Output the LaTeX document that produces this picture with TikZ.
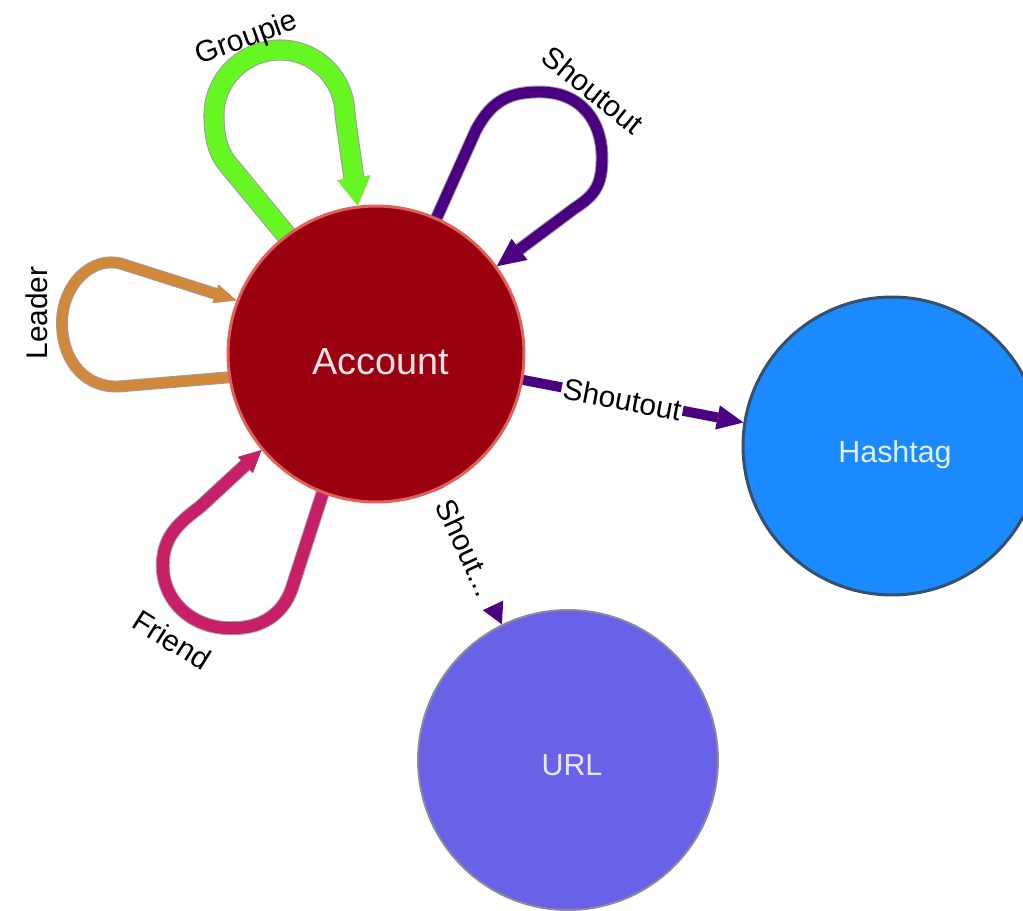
\documentclass[tikz,border=0pt]{standalone}
\usepackage{fontspec}
\setmainfont{Liberation Sans}
\usetikzlibrary{arrows.meta}
\pgfdeclarelayer{bg}
\pgfsetlayers{bg,main}
\definecolor{accfill}{HTML}{9B0010}
\definecolor{accborder}{HTML}{E0605A}
\definecolor{acctext}{HTML}{F5E2E2}
\definecolor{hashfill}{HTML}{1A8AFD}
\definecolor{hashborder}{HTML}{34506C}
\definecolor{hashtext}{HTML}{E2F0FF}
\definecolor{urlfill}{HTML}{6961E8}
\definecolor{urlborder}{HTML}{8A8A9A}
\definecolor{urltext}{HTML}{E8E8FC}
\definecolor{lgreen}{HTML}{66F622}
\definecolor{indig}{HTML}{4B0082}
\definecolor{lorange}{HTML}{D2883A}
\definecolor{lmagenta}{HTML}{C82068}
\tikzset{
  entity/.style={circle, inner sep=0pt},
  nodetext/.style={anchor=base, inner sep=0pt, font=\fontsize{17.3}{20}\selectfont},
  lbl/.style={font=\fontsize{17}{20}\selectfont, inner sep=1pt, text=black},
  band/.style={line join=round, line cap=butt},
  outl/.style={preaction={draw=black!38, line width=#1}},
}
\begin{document}
\begin{tikzpicture}[x=0.02cm, y=-0.02cm]
\useasboundingbox (0,0) rectangle (1023,911);
\clip (0,0) rectangle (1023,911);

% nodes
\node[entity, fill=accfill, draw=accborder, line width=1.7pt, minimum size=5.92cm] (acc) at (376,354) {};
\node[entity, fill=hashfill, draw=hashborder, line width=1.7pt, minimum size=5.96cm] (hash) at (892,446) {};
\node[entity, fill=urlfill, draw=urlborder, line width=1.1pt, minimum size=6cm] (url) at (568,760) {};

\node[nodetext, text=acctext, font=\fontsize{21.5}{24}\selectfont] (acclabel) at (381,375) {Account};
\node[nodetext, text=hashtext] (hashlabel) at (895,462) {Hashtag};
\node[nodetext, text=urltext] (urllabel) at (572,775) {URL};

\begin{pgfonlayer}{bg}
\fill[white] (0,0) rectangle (1023,911);
% Groupie loop
\draw[band, outl=12pt, line width=10.8pt, lgreen, shorten <=-6pt,
  -{Triangle[length=16pt,width=19pt,line width=0pt]}]
  (acc.127) -- (226,162) .. controls (217,150) and (214,134) .. (214,115)
  .. controls (214,79) and (244,50) .. (280,50)
  .. controls (316,50) and (345,79) .. (345,115) -- (acc.97);
% Shoutout self loop
\draw[band, outl=7.3pt, line width=6.2pt, indig, shorten <=-5pt,
  -{Triangle[length=16pt,width=15pt,line width=0pt]}]
  (acc.66) -- (476,130) .. controls (492,100) and (510,92) .. (540,92)
  .. controls (580,92) and (602,120) .. (602,158)
  .. controls (602,185) and (595,195) .. (575,208) -- (acc.36);
% Leader loop
\draw[band, outl=6.8pt, line width=5.7pt, lorange, shorten <=-5pt,
  -{Triangle[length=12.5pt,width=11pt,line width=0pt]}]
  (acc.189) -- (125,386) .. controls (85,391) and (62,360) .. (62,323)
  .. controls (62,285) and (92,255) .. (122,264) -- (acc.159);
% Friend loop
\draw[band, outl=7.9pt, line width=6.8pt, lmagenta, shorten <=-5pt,
  -{Triangle[length=12.5pt,width=12.5pt,line width=0pt]}]
  (acc.249) -- (292,588) .. controls (282,617) and (258,630) .. (226,628)
  .. controls (188,626) and (160,597) .. (163,560)
  .. controls (165,535) and (180,522) .. (200,507) -- (acc.220);
% Account -> Hashtag
\draw[band, line width=5.7pt, indig, shorten <=-5pt,
  -{Triangle[length=15pt,width=14pt,line width=0pt]}]
  (acc.350) -- node[lbl, sloped, fill=white, pos=0.45] (lblhash) {Shoutout} (hash.171);
% Account -> URL
\draw[band, line width=5.7pt, indig, shorten <=-5pt,
  -{Triangle[length=12.5pt,width=13.5pt,line width=0pt]}]
  (acc.295) -- node[lbl, sloped, fill=white, inner xsep=7pt, pos=0.43] (lblurl) {Shout...} (url.116);
\end{pgfonlayer}

% loop labels
\node[lbl, rotate=20] (lblgroupie) at (247,39) {Groupie};
\node[lbl, rotate=-39] (lblshout) at (593,90) {Shoutout};
\node[lbl, rotate=90] (lblleader) at (37,313) {Leader};
\node[lbl, rotate=-32] (lblfriend) at (172,640) {Friend};
\end{tikzpicture}
\end{document}
